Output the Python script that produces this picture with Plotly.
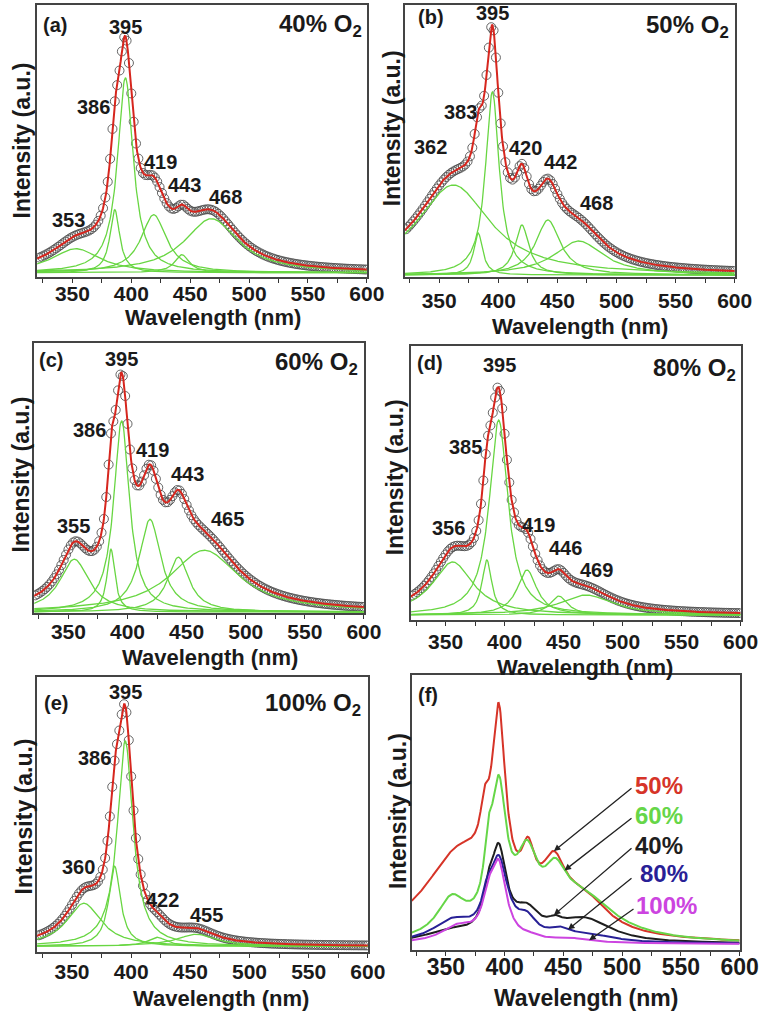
import numpy as np
import plotly.graph_objects as go

# ---------------- data ----------------
# Lorentzian components: centre (nm), height (a.u.), FWHM (nm)
a_centers = [353, 386, 395, 419, 443, 468]
a_heights = [24, 63, 195, 58, 18, 54]
a_fwhm = [50, 10, 16, 26, 15, 55]

b_centers = [362, 383, 395, 420, 442, 468]
b_heights = [90, 42, 183, 50, 55, 34]
b_fwhm = [75, 9, 14, 14, 25, 50]

c_centers = [355, 386, 395, 419, 443, 465]
c_heights = [53, 63, 192, 93, 55, 62]
c_fwhm = [30, 8, 16, 22, 22, 70]

d_centers = [356, 385, 395, 419, 446, 469]
d_heights = [53, 55, 195, 45, 19, 20]
d_fwhm = [42, 10, 19, 20, 18, 55]

e_centers = [360, 386, 395, 422, 455]
e_heights = [43, 80, 205, 9, 12]
e_fwhm = [35, 12, 16, 20, 40]

oxygen_labels = ["40% O<sub>2</sub>", "50% O<sub>2</sub>", "60% O<sub>2</sub>",
                 "80% O<sub>2</sub>", "100% O<sub>2</sub>"]
panel_tags = ["(a)", "(b)", "(c)", "(d)", "(e)", "(f)"]

# panel (f): relative peak heights of each spectrum
f_series = ["50%", "60%", "40%", "80%", "100%"]
f_source = [1, 2, 0, 3, 4]          # index of the fitted panel each spectrum comes from
f_peak = [241, 169, 101, 89, 85]
f_arrow_head_nm = [442, 451, 442, 454, 472]

x_tick_vals = [350, 400, 450, 500, 550, 600]
x_minor_vals = [325, 375, 425, 475, 525, 575]

# ---------------- layout constants ----------------
W, H = 782, 1015
FONT = "Liberation Sans, Arial, sans-serif"
# plot-area pixel boxes: left, right, top, bottom
boxes = [(38, 376, 5, 277), (415, 753, 5, 277), (35, 373, 343, 613),
         (421, 759, 346, 620), (38, 377, 677, 952), (422, 758, 675, 950)]
xranges = [(320, 600), (321, 600), (321, 600), (320.5, 600), (320.5, 600), (321, 600)]
yranges = [(-4.3, 267.7), (-2, 270), (-1, 270), (-5, 269), (-5.7, 269), (-6, 269)]
tick_standoff = [-7, 0, -5, -2, -4, -8]

peak_label_pos = [
    [("353", 346.7, 53), ("386", 367.5, 166), ("395", 395.3, 246), ("419", 424.4, 111), ("443", 445, 88), ("468", 480, 76)],
    [("362", 343, 128), ("383", 367.8, 163), ("395", 395.4, 262), ("420", 422.9, 127), ("442", 453, 113), ("468", 483.5, 72)],
    [("355", 354, 86), ("386", 367.8, 183), ("395", 395.3, 254), ("419", 421.5, 163), ("443", 450.4, 139), ("465", 484.8, 93)],
    [("356", 352.7, 87), ("385", 366.5, 168), ("395", 395.4, 250), ("419", 428.5, 90), ("446", 451.9, 67), ("469", 478.1, 45)],
    [("360", 355.2, 79), ("386", 369, 188), ("395", 395.1, 254), ("422", 426.9, 46), ("455", 464, 31)],
]
tag_pos = [(0.011, 0.926), (0.035, 0.955), (0.01, 0.937), (0.012, 0.937), (0.015, 0.905), (0.012, 0.927)]
o2_pos = [(0.99, 0.925), (0.988, 0.922), (0.989, 0.925), (0.993, 0.915), (0.984, 0.90)]
xtitle_px = [(218, 318), (594, 326), (215, 657), (600, 667), (226, 998), (601, 998)]
ytitle_px = [(23, 140), (402, 128), (22, 474), (405, 477), (25, 816), (408, 811)]
f_colors = ["rgb(214,52,40)", "rgb(102,214,72)", "rgb(30,30,30)", "rgb(40,32,150)", "rgb(204,68,224)"]
f_label_pos = [(531.8, 159), (531.8, 129), (531, 99), (536, 71), (537.7, 39)]
f_arrow_tail = [(509.3, 157), (509.3, 127), (509.3, 97), (509.3, 67), (511, 36)]

GREEN = "rgb(104,214,66)"
RED = "rgb(214,38,30)"
CIRCLE = "rgba(75,75,75,0.85)"

comps = [(a_centers, a_heights, a_fwhm), (b_centers, b_heights, b_fwhm),
         (c_centers, c_heights, c_fwhm), (d_centers, d_heights, d_fwhm),
         (e_centers, e_heights, e_fwhm)]


def lorentz(x, c, h, w):
    g = w / 2.0
    return h / (1.0 + ((x - c) / g) ** 2)


def total(x, p):
    return sum(lorentz(x, c, h, w) for c, h, w in zip(*p))


fig = go.Figure()
layout = dict(width=W, height=H, margin=dict(l=0, r=0, t=0, b=0),
              paper_bgcolor="white", plot_bgcolor="white", showlegend=False,
              font=dict(family=FONT, color="#222"))
annotations = []

for i in range(6):
    n = "" if i == 0 else str(i + 1)
    xa, ya = "x" + n, "y" + n
    l, r, t, b = boxes[i]
    fs_tick = 21 if i < 5 else 23
    layout["xaxis" + n] = dict(
        domain=[l / W, r / W], anchor=ya, range=list(xranges[i]),
        tickvals=x_tick_vals, ticks="outside", ticklen=4, tickwidth=1.3, tickcolor="#333",
        minor=dict(tickvals=x_minor_vals, ticks="outside", ticklen=4, tickwidth=1.3, tickcolor="#333"),
        showline=True, mirror=True, linecolor="#444", linewidth=1.6,
        showgrid=False, zeroline=False, ticklabelstandoff=tick_standoff[i],
        tickfont=dict(size=fs_tick, family=FONT, weight="bold", color="#1a1a1a"))
    layout["yaxis" + n] = dict(
        domain=[1 - b / H, 1 - t / H], anchor=xa, range=list(yranges[i]),
        showticklabels=False, ticks="", showline=True, mirror=True,
        linecolor="#444", linewidth=1.6, showgrid=False, zeroline=False)

    # axis titles
    tx, ty = xtitle_px[i]
    annotations.append(dict(text="Wavelength (nm)", x=tx / W, y=1 - ty / H, xref="paper", yref="paper",
                            showarrow=False, xanchor="center", yanchor="middle",
                            font=dict(size=22 if i < 5 else 23, family=FONT, weight="bold", color="#1a1a1a")))
    tx, ty = ytitle_px[i]
    annotations.append(dict(text="Intensity (a.u.)", x=tx / W, y=1 - ty / H, xref="paper", yref="paper",
                            showarrow=False, textangle=-90, xanchor="center", yanchor="middle",
                            font=dict(size=23, family=FONT, weight="bold", color="#1a1a1a")))
    # panel tag
    annotations.append(dict(text=panel_tags[i], x=tag_pos[i][0], y=tag_pos[i][1],
                            xref=xa + " domain", yref=ya + " domain", showarrow=False,
                            xanchor="left", yanchor="middle",
                            font=dict(size=20, family=FONT, weight="bold", color="#1a1a1a")))

    if i < 5:
        p = comps[i]
        xs = np.arange(xranges[i][0], 600.01, 0.5)
        xd = np.arange(322, 601, 2.0)
        # data circles
        fig.add_trace(go.Scatter(x=xd, y=total(xd, p), mode="markers", xaxis=xa, yaxis=ya,
                                 marker=dict(symbol="circle-open", size=9, color=CIRCLE,
                                             line=dict(color=CIRCLE, width=1))))
        # components
        for c, h, w in zip(*p):
            fig.add_trace(go.Scatter(x=xs, y=lorentz(xs, c, h, w), mode="lines", xaxis=xa, yaxis=ya,
                                     line=dict(color=GREEN, width=1.3)))
        # cumulative fit
        fig.add_trace(go.Scatter(x=xs, y=total(xs, p), mode="lines", xaxis=xa, yaxis=ya,
                                 line=dict(color=RED, width=2)))
        # peak labels
        for txt, px_, py_ in peak_label_pos[i]:
            annotations.append(dict(text=txt, x=px_, y=py_, xref=xa, yref=ya, showarrow=False,
                                    xanchor="center", yanchor="middle",
                                    font=dict(size=20, family=FONT, weight="bold", color="#1a1a1a")))
        annotations.append(dict(text=oxygen_labels[i], x=o2_pos[i][0], y=o2_pos[i][1],
                                xref=xa + " domain", yref=ya + " domain", showarrow=False,
                                xanchor="right", yanchor="middle",
                                font=dict(size=24, family=FONT, weight="bold", color="#1a1a1a")))
    else:
        xs = np.arange(xranges[i][0], 600.01, 0.5)
        for k, name in enumerate(f_series):
            p = comps[f_source[k]]
            yy = total(xs, p)
            scale = f_peak[k] / yy.max()
            fig.add_trace(go.Scatter(x=xs, y=yy * scale, mode="lines", xaxis=xa, yaxis=ya,
                                     line=dict(color=f_colors[k], width=2)))
            hx = f_arrow_head_nm[k]
            hy = float(total(np.array([hx]), p)[0] * scale)
            annotations.append(dict(x=hx, y=hy, ax=f_arrow_tail[k][0], ay=f_arrow_tail[k][1],
                                    xref=xa, yref=ya, axref=xa, ayref=ya, text="",
                                    showarrow=True, arrowhead=2, arrowsize=1, arrowwidth=1.3,
                                    arrowcolor="#222", standoff=0))
            annotations.append(dict(text=name, x=f_label_pos[k][0], y=f_label_pos[k][1],
                                    xref=xa, yref=ya, showarrow=False, xanchor="center", yanchor="middle",
                                    font=dict(size=24, family=FONT, weight="bold", color=f_colors[k])))

layout["annotations"] = annotations
fig.update_layout(**layout)
fig.write_html("out.html")
